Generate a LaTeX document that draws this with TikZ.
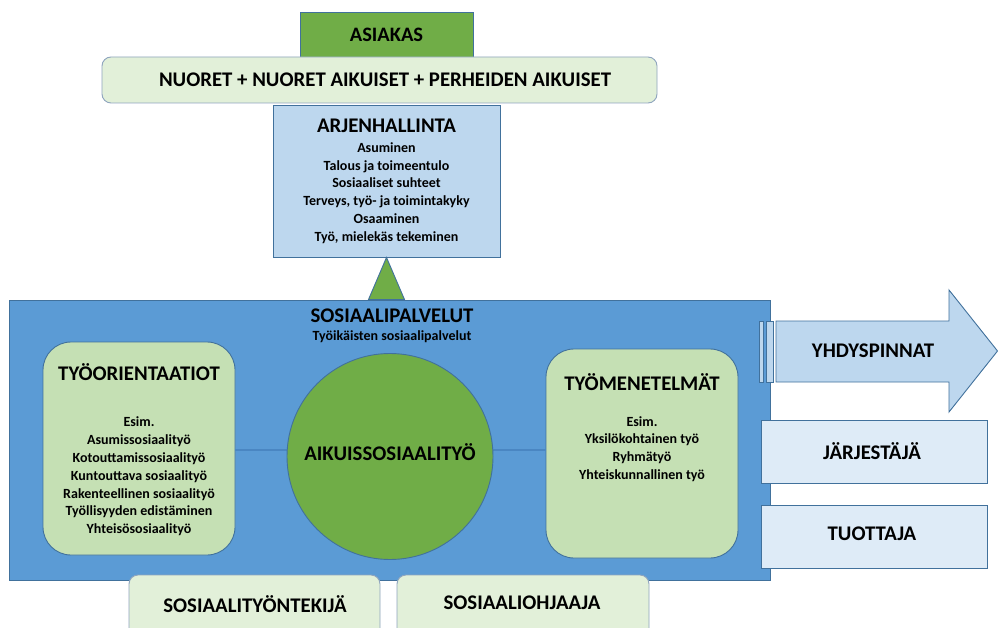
\documentclass[tikz,border=0pt]{standalone}
\usepackage{fontspec}
\setmainfont{Carlito}
\definecolor{bordblue}{HTML}{41719C}
\definecolor{mainblue}{HTML}{5B9BD5}
\definecolor{lineblue}{HTML}{4A86C2}
\definecolor{lightblue}{HTML}{BDD7EE}
\definecolor{paleblue}{HTML}{DEEBF7}
\definecolor{sgreen}{HTML}{70AD47}
\definecolor{midgreen}{HTML}{C5E0B4}
\definecolor{palegreen}{HTML}{E2F0D9}
\definecolor{paleborder}{HTML}{8EA4BE}
\begin{document}
\begin{tikzpicture}[x=1pt,y=-1pt,
  outl/.style={draw=bordblue,line width=0.9pt},
  palebox/.style={draw=paleborder,line width=0.9pt,fill=palegreen,rounded corners=9pt,inner sep=0pt},
  sqbox/.style={outl,inner sep=0pt},
  orient/.style={outl,fill=midgreen,rounded corners=28pt,inner sep=0pt},
  titletxt/.style={font=\bfseries\fontsize{20.8}{24}\selectfont,inner sep=0pt},
  bodytxt/.style={font=\bfseries\fontsize{14}{17.8}\selectfont,align=center,inner sep=0pt}]
\useasboundingbox (0,0) rectangle (998,628);
\clip (0,0) rectangle (998,628);
\fill[white] (0,0) rectangle (998,628);
% top
\node[sqbox,fill=sgreen,minimum width=173pt,minimum height=46pt] (asiakas) at (386.5,35) {};
\node[titletxt,font=\bfseries\fontsize{20.5}{24}\selectfont] (asiakastxt) at (asiakas.center) {ASIAKAS};
\node[palebox,minimum width=555pt,minimum height=46pt] (nuoret) at (379.5,80) {};
\node[titletxt] (nuorettxt) at (385,80) {NUORET + NUORET AIKUISET + PERHEIDEN AIKUISET};
\node[sqbox,fill=lightblue,minimum width=227pt,minimum height=152pt] (arjen) at (386.5,181) {};
\node[titletxt] (arjentitle) at (386.5,126) {ARJENHALLINTA};
\node[bodytxt] (arjenbody) at (386.5,193) {Asuminen\\Talous ja toimeentulo\\Sosiaaliset suhteet\\Terveys, työ- ja toimintakyky\\Osaaminen\\Työ, mielekäs tekeminen};
% main
\node[sqbox,fill=mainblue,minimum width=761pt,minimum height=280pt] (main) at (389.5,440) {};
\fill[sgreen,draw=bordblue,line width=0.9pt] ([xshift=-18pt]arjen.south |- main.north) -- (arjen.south) -- ([xshift=18pt]arjen.south |- main.north) -- cycle;
\node[titletxt] (soptitle) at (392,316) {SOSIAALIPALVELUT};
\node[bodytxt] (sopsub) at (392,337) {Työikäisten sosiaalipalvelut};
% left & right boxes
\node[orient,minimum width=192pt,minimum height=213pt] (left) at (139,448.5) {};
\node[titletxt] (lefttitle) at (139,372) {TYÖORIENTAATIOT};
\node[bodytxt] (leftbody) at (139,476.5) {Esim.\\Asumissosiaalityö\\Kotouttamissosiaalityö\\Kuntouttava sosiaalityö\\Rakenteellinen sosiaalityö\\Työllisyyden edistäminen\\Yhteisösosiaalityö};
\node[orient,minimum width=192pt,minimum height=209pt] (right) at (642,453.5) {};
\node[titletxt] (righttitle) at (642,382) {TYÖMENETELMÄT};
\node[bodytxt] (rightbody) at (642,449) {Esim.\\Yksilökohtainen työ\\Ryhmätyö\\Yhteiskunnallinen työ};
\draw[lineblue,line width=1.2pt] (left.east |- 0,450) coordinate (la) -- (right.west |- 0,450) coordinate (lb);
\node[circle,outl,fill=sgreen,minimum size=206pt,inner sep=0pt] (circ) at (390,456.5) {};
\node[titletxt] (circtxt) at (390,452) {AIKUISSOSIAALITYÖ};
% arrow
\draw[outl,fill=lightblue] (776,321) -- (949,321) -- (949,290) -- (997.5,351) -- (949,412) -- (949,382) -- (776,382) -- cycle;
\node[sqbox,fill=lightblue,minimum width=4pt,minimum height=61pt] (bar1) at (761,351.5) {};
\node[sqbox,fill=lightblue,minimum width=7pt,minimum height=61pt] (bar2) at (769.5,351.5) {};
\node[titletxt] (yhd) at (873,351) {YHDYSPINNAT};
\node[sqbox,fill=paleblue,minimum width=226pt,minimum height=63pt] (jarj) at (874,451.5) {};
\node[titletxt] (jarjtxt) at (872,451) {JÄRJESTÄJÄ};
\node[sqbox,fill=paleblue,minimum width=226pt,minimum height=63pt] (tuot) at (874,536.5) {};
\node[titletxt] (tuottxt) at (872,534) {TUOTTAJA};
% bottom
\node[palebox,minimum width=251pt,minimum height=70pt] (sost) at (254.5,610) {};
\node[titletxt] (sosttxt) at (255,604) {SOSIAALITYÖNTEKIJÄ};
\node[palebox,minimum width=252pt,minimum height=70pt] (soso) at (523,610) {};
\node[titletxt] (sosotxt) at (522,603) {SOSIAALIOHJAAJA};
\end{tikzpicture}
\end{document}
